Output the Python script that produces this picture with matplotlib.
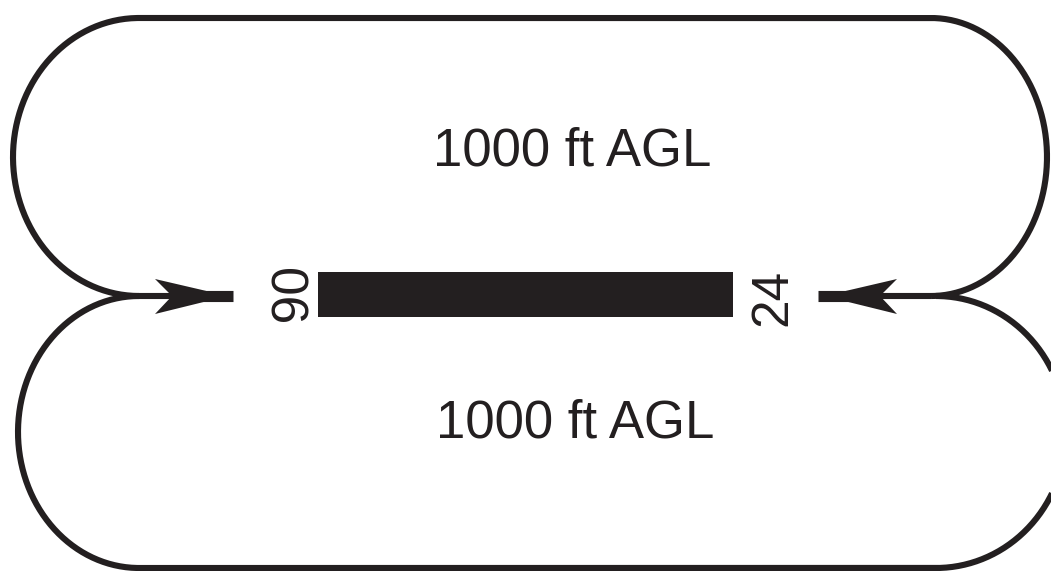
import numpy as np
import matplotlib
matplotlib.use("Agg")
import matplotlib.pyplot as plt
from matplotlib.patches import Polygon, Rectangle

# ---- content ----
altitude_labels = ["1000 ft AGL", "1000 ft AGL"]
runway_labels = ["06", "24"]
runway_label_rotation = [-90, 90]

# ---- geometry (pixel space, y downward) ----
W, H = 1051, 571
join_y = 296
# loops: (left cx, right cx, cy, left rx, right rx, ry)
top_loop = dict(lcx=139, rcx=931, cy=157, lrx=126, rrx=116, ry=139)
bot_loop = dict(lcx=139, rcx=936, cy=432, lrx=121, rrx=130, ry=136)
runway_box = (318, 272, 733, 317)  # x0, y0, x1, y1
left_arrow = dict(join=139, notch=172, barb=155, tip=228, bar_end=233, dir=1)
right_arrow = dict(join=931, notch=880, barb=897, tip=824, bar_end=818, dir=-1)
runway_label_pos = [(282, 297), (773, 297)]
altitude_pos = [(572, 165), (575, 437)]

ink = "#231f20"
lw_line = 4.4
lw_bar = 8.0

fig = plt.figure(figsize=(W / 100, H / 100), dpi=100)
ax = fig.add_axes([0, 0, 1, 1])
ax.set_xlim(0, W)
ax.set_ylim(H, 0)
ax.axis("off")


def loop_points(g, upper):
    n = 200
    if upper:
        tl = np.radians(np.linspace(90, 270, n))
        tr = np.radians(np.linspace(-90, 90, n))
    else:
        tl = np.radians(np.linspace(270, 90, n))
        tr = np.radians(np.linspace(90, -90, n))
    xl = g["lcx"] + g["lrx"] * np.cos(tl)
    yl = g["cy"] + g["ry"] * np.sin(tl)
    xr = g["rcx"] + g["rrx"] * np.cos(tr)
    yr = g["cy"] + g["ry"] * np.sin(tr)
    return np.concatenate([xl, xr]), np.concatenate([yl, yr])


for g, up in [(top_loop, True), (bot_loop, False)]:
    x, y = loop_points(g, up)
    ax.plot(x, y, color=ink, lw=lw_line, solid_capstyle="butt",
            solid_joinstyle="round")

# arrows
for a in [left_arrow, right_arrow]:
    d = a["dir"]
    ax.plot([a["join"], a["notch"]], [join_y, join_y], color=ink,
            lw=lw_line, solid_capstyle="butt")
    ax.plot([a["notch"] + d * 30, a["bar_end"]], [join_y, join_y],
            color=ink, lw=lw_bar, solid_capstyle="butt")
    head = [(a["tip"], join_y), (a["barb"], join_y - 17),
            (a["notch"], join_y), (a["barb"], join_y + 18)]
    ax.add_patch(Polygon(head, closed=True, color=ink, lw=0))

# runway
x0, y0, x1, y1 = runway_box
ax.add_patch(Rectangle((x0, y0), x1 - x0, y1 - y0, color=ink, lw=0))

# runway numbers
for lab, rot, (px, py) in zip(runway_labels, runway_label_rotation,
                              runway_label_pos):
    ax.text(px, py, lab, rotation=rot, ha="center", va="center",
            fontsize=37, color=ink, family="Liberation Sans")

# altitude labels
for lab, (px, py) in zip(altitude_labels, altitude_pos):
    ax.text(px, py, lab, ha="center", va="baseline", fontsize=38,
            color=ink, family="Liberation Sans")

fig.savefig("out.png", dpi=100, facecolor="white")
